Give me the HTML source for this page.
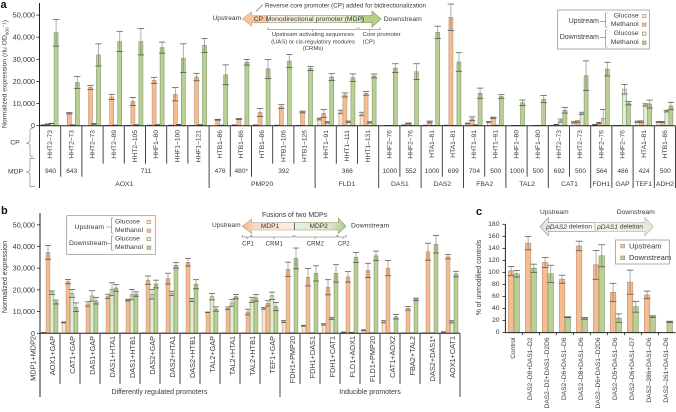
<!DOCTYPE html>
<html lang="en">
<head>
<meta charset="utf-8">
<title>Bidirectional promoter expression chart</title>
<style>
html,body{margin:0;padding:0;background:#fff;}
svg{display:block;font-family:"Liberation Sans",Arial,sans-serif;}
text{fill:#3a3a3a;dominant-baseline:central;}
</style>
</head>
<body>
<svg id="fig" width="676" height="412" viewBox="0 0 676 412" xmlns="http://www.w3.org/2000/svg">
<defs>
<linearGradient id="gMdp" x1="0" x2="1" y1="0" y2="0"><stop offset="0" stop-color="#fdf0e2"/><stop offset=".55" stop-color="#eef0d8"/><stop offset="1" stop-color="#c6d8a2"/></linearGradient>
<linearGradient id="gF1" x1="0" x2="1" y1="0" y2="0"><stop offset="0" stop-color="#f6b488"/><stop offset=".25" stop-color="#fbd9c0"/><stop offset="1" stop-color="#fdeee2"/></linearGradient>
<linearGradient id="gF2" x1="0" x2="1" y1="0" y2="0"><stop offset="0" stop-color="#eaf0de"/><stop offset=".7" stop-color="#dbe6c6"/><stop offset="1" stop-color="#adc885"/></linearGradient>
<linearGradient id="gDelL" x1="0" x2="1" y1="0" y2="0"><stop offset="0" stop-color="#dcdcdc"/><stop offset=".3" stop-color="#f6f6f6"/><stop offset="1" stop-color="#ffffff"/></linearGradient>
<linearGradient id="gDelR" x1="0" x2="1" y1="0" y2="0"><stop offset="0" stop-color="#f6f8f0"/><stop offset="1" stop-color="#e2ebd6"/></linearGradient>
</defs>

<!-- panel letters -->
<text x="0.5" y="5" font-size="11" font-weight="bold" style="fill:#111">a</text>
<text x="1" y="211" font-size="11" font-weight="bold" style="fill:#111">b</text>
<text x="476" y="212" font-size="11" font-weight="bold" style="fill:#111">c</text>

<!-- axis titles -->
<text transform="rotate(-90 5 74)" x="5" y="74" font-size="6.8" text-anchor="middle">Normalized expression (rlu OD<tspan font-size="4.6" dy="1.5">600</tspan><tspan font-size="4.6" dy="-3">−1</tspan><tspan dy="1.5">)</tspan></text>
<text transform="rotate(-90 5 277)" x="5" y="277" font-size="7.1" text-anchor="middle">Normalized expression</text>
<text transform="rotate(-90 479.5 277.5)" x="479.5" y="277.5" font-size="6.9" text-anchor="middle">% of unmodified controls</text>

<!-- panel a row labels -->
<text x="15" y="143" font-size="6.8" text-anchor="middle">CP</text>
<text x="15.5" y="172" font-size="6.8" text-anchor="middle">MDP</text>
<path d="M33 128 Q30 128 30 131 V140 Q30 143 26 143 Q30 143 30 146 V154 Q30 157 33 157" fill="none" stroke="#8a8a8a" stroke-width=".7"/>
<path d="M35 158.5 H30 V169 Q30 172 26 172 Q30 172 30 175 V186.5 H35" fill="none" stroke="#8a8a8a" stroke-width=".7"/>

<!-- panel a diagram -->
<g>
<text x="212.5" y="18.7" font-size="6.6">Upstream</text>
<text x="383.7" y="19.5" font-size="6.8">Downstream</text>
<text x="265" y="6" font-size="6.3">Reverse core promoter (CP) added for bidirectionalization</text>
<path d="M263 4.5 L256 11.5" stroke="#666" stroke-width=".6" fill="none"/>
<path d="M267.7 15.7 H251.7 V11.7 L242.3 18.9 L251.7 26 V22.7 H267.7 Z" fill="#f7c5a0" stroke="#c2a388" stroke-width=".6"/>
<path d="M267.7 15.7 H372 V11 L381 19 L372 27 V22.7 H267.7 Z" fill="url(#gMdp)" stroke="#8d9c74" stroke-width=".6"/>
<path d="M362 15.7 H372 V11 L381 19 L372 27 V22.7 H362 Z" fill="#b7cf8a" stroke="#8d9c74" stroke-width=".6"/>
<text x="258.5" y="19.3" font-size="6.8" text-anchor="middle">CP</text>
<text x="315" y="19.3" font-size="6.8" text-anchor="middle">Monodirectional promoter (MDP)</text>
<path d="M268 27.5 V29.5 H357 V27.5 M312.5 29.5 V31.5 M359 27.5 V29.5 H380 V27.5 M369.5 29.5 V31.5" fill="none" stroke="#666" stroke-width=".6"/>
<text x="313" y="35" font-size="5.9" text-anchor="middle">Upstream activating sequences</text>
<text x="313" y="42.3" font-size="5.9" text-anchor="middle">(UAS) or cis-regulatory modules</text>
<text x="313" y="49" font-size="5.9" text-anchor="middle">(CRMs)</text>
<text x="362.7" y="35" font-size="5.9">Core promoter</text>
<text x="362.7" y="42.3" font-size="5.9">(CP)</text>
</g>

<!-- panel a legend -->
<g>
<rect x="557.5" y="10" width="91.8" height="39" fill="#fff" stroke="#8c8c8c" stroke-width=".7"/>
<text x="599" y="21.3" font-size="7" text-anchor="end">Upstream</text>
<text x="599" y="37.7" font-size="7" text-anchor="end">Downstream</text>
<path d="M607.5 13 H605.5 V27 H607.5 M600 21.3 H605.5 M607.5 30 H605.5 V47 H607.5 M600 37.7 H605.5" fill="none" stroke="#777" stroke-width=".6"/>
<text x="638.7" y="16" font-size="6.8" text-anchor="end">Glucose</text>
<text x="638.7" y="24.7" font-size="6.8" text-anchor="end">Methanol</text>
<text x="638.7" y="33.7" font-size="6.8" text-anchor="end">Glucose</text>
<text x="638.7" y="42.7" font-size="6.8" text-anchor="end">Methanol</text>
<rect x="642.3" y="14.3" width="3.8" height="3.4" fill="#f9e3d0" stroke="#b99274" stroke-width=".6"/>
<rect x="642.3" y="23" width="3.8" height="3.4" fill="#f5bc90" stroke="#b99274" stroke-width=".6"/>
<rect x="642.3" y="32" width="3.8" height="3.4" fill="#e6ecd6" stroke="#7f9868" stroke-width=".6"/>
<rect x="642.3" y="41" width="3.8" height="3.4" fill="#b9cf94" stroke="#7f9868" stroke-width=".6"/>
</g>

<!-- panel b legend -->
<g>
<rect x="66.7" y="215.7" width="88.6" height="38.6" fill="#fff" stroke="#8c8c8c" stroke-width=".7"/>
<text x="104" y="227.3" font-size="6.8" text-anchor="end">Upstream</text>
<text x="69" y="243.3" font-size="6.8">Downstream</text>
<path d="M113.5 218 H111.5 V233 H113.5 M106 227 H111.5 M113.5 236 H111.5 V250 H113.5 M107.5 243.3 H111.5" fill="none" stroke="#777" stroke-width=".6"/>
<text x="115" y="222" font-size="6.8">Glucose</text>
<text x="115" y="230.7" font-size="6.8">Methanol</text>
<text x="115" y="239" font-size="6.8">Glucose</text>
<text x="115" y="247.7" font-size="6.8">Methanol</text>
<rect x="147" y="220.3" width="3.8" height="3.4" fill="#f9e3d0" stroke="#b99274" stroke-width=".6"/>
<rect x="147" y="229" width="3.8" height="3.4" fill="#f5bc90" stroke="#b99274" stroke-width=".6"/>
<rect x="147" y="237.3" width="3.8" height="3.4" fill="#e6ecd6" stroke="#7f9868" stroke-width=".6"/>
<rect x="147" y="246" width="3.8" height="3.4" fill="#b9cf94" stroke="#7f9868" stroke-width=".6"/>
</g>

<!-- panel b diagram -->
<g>
<text x="262" y="215.7" font-size="6.9">Fusions of two MDPs</text>
<text x="212" y="225.7" font-size="6.6">Upstream</text>
<text x="351" y="226" font-size="6.8">Downstream</text>
<path d="M294.3 222.7 H251.7 V219 L242.3 226.3 L251.7 233.5 V230 H294.3 Z" fill="url(#gF1)" stroke="#b0a090" stroke-width=".6"/>
<path d="M294.3 222.7 H338.3 V218 L346 226.3 L338.3 233.5 V230 H294.3 Z" fill="url(#gF2)" stroke="#8d9c74" stroke-width=".6"/>
<path d="M294.3 222.7 V230" stroke="#333" stroke-width=".7"/>
<text x="270" y="226.5" font-size="6.6" text-anchor="middle">MDP1</text>
<text x="318.7" y="226.5" font-size="6.6" text-anchor="middle">MDP2</text>
<path d="M242.5 235 V237 H251 V235 M247 237 V239 M252 235 V237 H293.5 V235 M274 237 V239 M295 235 V237 H337 V235 M315 237 V239 M338 235 V237 H346 V235 M343 237 V239" fill="none" stroke="#666" stroke-width=".6"/>
<text x="248" y="244.7" font-size="6" text-anchor="middle">CP1</text>
<text x="274.3" y="244.7" font-size="6" text-anchor="middle">CRM1</text>
<text x="315.3" y="244.7" font-size="6" text-anchor="middle">CRM2</text>
<text x="343.7" y="244.7" font-size="6" text-anchor="middle">CP2</text>
</g>

<text transform="rotate(-90 33 336)" x="33" y="336" font-size="7.3" text-anchor="end">MDP1+MDP2</text>
<text x="159.5" y="392.3" font-size="7" text-anchor="middle">Differently regulated promoters</text>
<text x="370" y="392.3" font-size="7" text-anchor="middle">Inducible promoters</text>

<!-- panel c diagram -->
<g>
<text x="540" y="212.7" font-size="6.6">Upstream</text>
<text x="616.7" y="212.7" font-size="6.8">Downstream</text>
<path d="M595 222.7 H548.3 V217.7 L540 226.8 L548.3 235.7 V231.3 H595 Z" fill="url(#gDelL)" stroke="#8c8c8c" stroke-width=".6"/>
<path d="M595 222.7 H645 V217.7 L653.3 226.8 L645 235.7 V231.3 H595 Z" fill="url(#gDelR)" stroke="#a8b39a" stroke-width=".6"/>
<text x="569" y="227" font-size="6.6" text-anchor="middle"><tspan font-style="italic">pDAS2</tspan> deletion</text>
<text x="620" y="227" font-size="6.6" text-anchor="middle"><tspan font-style="italic">pDAS1</tspan> deletion</text>
</g>

<!-- panel c legend -->
<g>
<rect x="615.3" y="240" width="54" height="24" fill="#fff" stroke="#8c8c8c" stroke-width=".7"/>
<rect x="620.7" y="244.3" width="4" height="3.6" fill="#f5bc90" stroke="#b99274" stroke-width=".6"/>
<rect x="620.7" y="256" width="4" height="3.6" fill="#b9cf94" stroke="#7f9868" stroke-width=".6"/>
<text x="629" y="246" font-size="7.5">Upstream</text>
<text x="629" y="257.7" font-size="7.5">Downstream</text>
</g>
</svg>

<script>
// ---------- Panel a data (values in thousands) ----------
const aCpLabels = ['HHT2–73','HHT2–73','HHT2–73','HHT2–89','HHT2–105','HHF1–80','HHF1–100','HHF1–121','HTB1–86','HTB1–86','HTB1–86','HTB1–106','HTB1–126','HHT1–91','HHT1–111','HHT1–131','HHF2–76','HHF2–76','HTA1–81','HTA1–81','HHT1–91','HHT1–91','HHF1–80','HHF1–80','HHT2–73','HHT2–73','HHF2–76','HHF2–76','HTA1–81','HTB1–86'];
const aUpGlucose   = [0.3,0,0,0.1,0.1,0.2,0.2,0.1,0,0.3,0.3,0.2,0.1,3,6.2,5.3,0,0.3,0.2,0.2,1,1.7,0,0,0.1,1.5,0.4,0.1,1.8,1.7];
const aUpMethanol  = [0.6,5.6,17.3,13,11,20.5,14.2,22,2.7,3,6,8.6,6.2,5.6,13.9,14.6,0.1,1,1.7,49,3.2,3.6,0.1,0.1,0.5,1.8,1.2,0.1,1.8,1.7];
const aDownGlucose = [1,0.3,0.8,0.2,0.4,0.4,0.5,0.4,0.2,0,0,0,0,1.5,1.8,1.5,0.1,0.1,0.1,0.1,0.3,0.2,0.1,0.1,2.3,5.6,3.3,16.5,9.4,6.6];
const aDownMethanol= [42,19.5,32,38,38,35.3,30.5,36.3,23,28.7,25.7,29.2,25.9,22,21.7,22.5,26,24.4,42.2,28.8,14.7,13.2,10.4,12,7,22.6,25.6,10.2,9.8,8.9];
const aUpGlucoseErr   = [0.1,0,0,0,0,0,0,0,0,0,0,0,0,0.4,0.8,0.8,0,0,0,0,0.2,0.2,0,0,0,0.3,0.2,0,0.3,0.2];
const aUpMethanolErr  = [0.2,0.3,0.9,1.2,1.8,1.4,3,1.7,0.2,0.2,1.8,0.9,0.4,1.8,0.9,0.8,0,0.2,0.4,6,0.8,0.3,0,0,0.1,0.4,0.3,0,0.4,0.2];
const aDownGlucoseErr = [0.1,0.1,0.2,0.1,0.1,0.1,0.1,0.1,0,0,0,0,0,0.3,0.3,0.3,0,0,0,0,0,0,0,0,0.7,0.5,4,2.2,0.5,0.4];
const aDownMethanolErr= [6,2.7,5,4.5,6,2.5,6.5,3.2,4.5,1.3,4.3,3,0.9,1.5,1.7,0.9,2,3.6,2.8,4.2,2.3,0.8,1.2,1.6,1.3,6.7,3.1,0.8,1.8,1.7];
const aMdpLabels = ['940','643','711','478','480*','392','366','1000','552','1000','699','704','500','1000','500','692','500','564','486','424','500'];
const aMdpSpans  = [1,1,6,1,1,3,3,1,1,1,1,1,1,1,1,1,1,1,1,1,1];
const aPromoterLabels = ['AOX1','PMP20','FLD1','DAS1','DAS2','FBA2','TAL2','CAT1','FDH1','GAP','TEF1','ADH2'];
const aPromoterSpans  = [8,5,3,2,2,2,2,2,1,1,1,1];
const aTicks = [0,10,20,30,40,50];

// ---------- Panel b data (values in thousands) ----------
const bLabels = ['AOX1+GAP','CAT1+GAP','DAS1+GAP','DAS1+HTA1','DAS1+HTB1','DAS2+GAP','DAS2+HTA1','DAS2+HTB1','TAL2+GAP','TAL2+HTA1','TAL2+HTB1','TEF1+GAP','FDH1+PMP20','FDH1+DAS1','FDH1+CAT1','FLD1+AOX1','FLD1+PMP20','CAT1+AOX2','FBA2+TAL2','DAS2+DAS1*','AOX1+CAT1'];
const bUpGlucose   = [0.3,5,0,0.1,0.1,0.2,0.1,0.1,0.1,0.1,0.1,11.5,5.4,3.5,4.1,0.5,1.4,5.3,0.2,0.2,0.6];
const bUpMethanol  = [37.3,23.8,13.5,17,15.3,24.5,25.2,32.7,9.7,11.5,9.8,13.8,29.5,25.8,21.2,26,29,30,11.5,37.6,35.3];
const bDownGlucose = [18.7,18.4,17.2,20.3,17.8,18,18.4,15.3,16.9,14,15.4,17.3,0.2,0.2,6.9,0.4,0.2,0.1,0.1,0.2,5.3];
const bDownMethanol= [14.4,12,15,20.9,18.1,22.7,31.3,22.6,11.2,16.9,16.3,12.3,34.5,27.6,27.6,35,35.7,7.6,15.7,41,27.3];
const bUpGlucoseErr   = [0,0.2,0,0,0,0,0,0,0,0,0,0.4,0.5,0.2,0.3,0.1,0.2,0.5,0,0,0.1];
const bUpMethanolErr  = [3.2,1,1,1,0.4,1.9,2.5,1.7,0.1,0.6,1.3,1.2,3.3,4,3.5,2.4,3.3,3.5,0.8,3.9,1];
const bDownGlucoseErr = [0.8,1.8,2.4,3,2.4,2.2,1,0.7,1.5,1.5,1.2,1.7,0,0,0.5,0,0,0,0,0,0.5];
const bDownMethanolErr= [0.9,2,1.5,1.5,1,1.8,1.3,2.1,1,1,1.5,1.9,4.8,3.5,4,2.3,2.2,1,0.5,4,1.3];
const bGroupLabels = ['Differently regulated promoters','Inducible promoters'];
const bGroupSpans  = [12,9];
const bTicks = [0,10,20,30,40,50];

// ---------- Panel c data (percent) ----------
const cLabels = ['Control','DAS2–D8+DAS1–D2','DAS2–D2+DAS1–D2D6','DAS2–D6+DAS1–D6','DAS2–D8+DAS1–D6','DAS2–D6+DAS1–D2D6','DAS2–D5+DAS1–D6','DAS2–D6+DAS1–D7','DAS2–386+DAS1–D6','DAS2–261+DAS1–D6'];
const cUpstream      = [102.6,148.8,116.5,88.8,144,112.6,67,83.8,62.6,0];
const cUpstreamErr   = [7.4,11.2,8.5,6.7,8,24,15,20,6.4,0];
const cDownstream    = [97.7,107,97.7,25.5,23.8,127.7,24,43,26.4,18];
const cDownstreamErr = [5.3,6.8,14.3,0.8,1.5,18.3,7,9,1.5,1];
const cTicks = [0,20,40,60,80,100,120,140,160,180];

// ---------- Axis functions ----------
const aX = i => 39.5 + 21.2 * i;
const aY = v => 125.7 - v * 2.212;
const bX = i => 40 + 20 * i;
const bY = v => 333.3 - v * 2.17;
const cX = i => 505.4 + 17 * i;
const cY = v => 332.6 - v * 0.6017;

const UG = {fill:'#f9e3d0', stroke:'#b99274'};
const UM = {fill:'#f5bc90', stroke:'#b99274'};
const DG = {fill:'#e6ecd6', stroke:'#7f9868'};
const DM = {fill:'#b9cf94', stroke:'#7f9868'};
const NS = 'http://www.w3.org/2000/svg';
const fig = document.getElementById('fig');

function make(tag, attrs, parent) {
  const n = document.createElementNS(NS, tag);
  for (const k in attrs) n.setAttribute(k, attrs[k]);
  (parent || fig).appendChild(n);
  return n;
}

function drawLine(x1, y1, x2, y2, stroke, width, parent) {
  return make('line', {x1, y1, x2, y2, stroke, 'stroke-width': width}, parent);
}

function drawSeries(parent, xFn, yFn, offset, width, values, errors, style, capHalf) {
  values.forEach((v, i) => {
    const cx = xFn(i + 0.5) + offset;
    const top = yFn(v);
    const rect = make('rect', {x: cx - width / 2, y: top, width: width, height: Math.max(0, yFn(0) - top), fill: style.fill, stroke: style.stroke, 'stroke-width': 0.6}, parent);
    
    
    const e = errors[i];
    if (v === 0 && e === 0) return;
    const hi = yFn(v + e);
    const lo = yFn(Math.max(0, v - e));
    const g = make('g', {}, parent);
    
    
    drawLine(cx, hi, cx, lo, '#6a6a6a', 0.9, g).setAttribute('opacity', '0.6');
    drawLine(cx - capHalf, hi, cx + capHalf, hi, '#4a4a4a', 0.7, g);
    drawLine(cx - capHalf, lo, cx + capHalf, lo, '#4a4a4a', 0.7, g);
  });
}

function drawYAxis(parent, x, yFn, ticks, formatter, topY, bottomY, size, labelRight) {
  const axis = drawLine(x, topY, x, bottomY, '#222', 1, parent);
  
  
  ticks.forEach(t => {
    const y = yFn(t);
    const tick = drawLine(x - 3, y, x, y, '#222', 0.8, parent);
    
    
    const label = make('text', {x: labelRight, y: y, 'font-size': size, 'text-anchor': 'end'}, parent);
    label.textContent = formatter(t);
    
    
  });
}

function rotatedLabel(parent, x, y, size, str) {
  const t = make('text', {x: x, y: y, 'font-size': size, 'text-anchor': 'end', transform: 'rotate(-90 ' + x + ' ' + y + ')'}, parent);
  t.textContent = str;
  
  
}

function boundaries(spans) {
  const out = [];
  let acc = 0;
  spans.forEach(s => { acc += s; out.push(acc); });
  return out;
}

const thousands = t => t === 0 ? '0' : t + ',000';

// ---------- Panel a ----------
const pa = make('g', {});


drawSeries(pa, aX, aY, -6, 4, aUpGlucose, aUpGlucoseErr, UG, 3.2);
drawSeries(pa, aX, aY, -2, 4, aUpMethanol, aUpMethanolErr, UM, 3.2);
drawSeries(pa, aX, aY, 2, 4, aDownGlucose, aDownGlucoseErr, DG, 3.2);
drawSeries(pa, aX, aY, 6, 4, aDownMethanol, aDownMethanolErr, DM, 3.2);
drawYAxis(pa, aX(0), aY, aTicks, thousands, 3, 188, 7.3, 35);
const aAxisX = drawLine(aX(0), aY(0), aX(30), aY(0), '#222', 1, pa);


const aMdpEnds = boundaries(aMdpSpans);
const aPromEnds = boundaries(aPromoterSpans);
for (let i = 1; i <= aCpLabels.length; i++) {
  const depth = aPromEnds.includes(i) ? 188 : (aMdpEnds.includes(i) ? 176.7 : 163.7);
  const sep = drawLine(aX(i), aY(0), aX(i), depth, '#333', 0.9, pa);
  
  
}
aCpLabels.forEach((s, i) => rotatedLabel(pa, aX(i + 0.5) + 0.6, 130, 6.7, s));
let aAcc = 0;
aMdpLabels.forEach((s, i) => {
  const t = make('text', {x: aX(aAcc + aMdpSpans[i] / 2) + 0.4, y: 171.7, 'font-size': 6.6, 'text-anchor': 'middle'}, pa);
  t.textContent = s;
  
  
  aAcc += aMdpSpans[i];
});
aAcc = 0;
aPromoterLabels.forEach((s, i) => {
  const t = make('text', {x: aX(aAcc + aPromoterSpans[i] / 2), y: 184.3, 'font-size': 6.8, 'text-anchor': 'middle'}, pa);
  t.textContent = s;
  
  
  aAcc += aPromoterSpans[i];
});

// ---------- Panel b ----------
const pb = make('g', {});


drawSeries(pb, bX, bY, -6, 3.8, bUpGlucose, bUpGlucoseErr, UG, 3);
drawSeries(pb, bX, bY, -2, 3.8, bUpMethanol, bUpMethanolErr, UM, 3);
drawSeries(pb, bX, bY, 2, 3.8, bDownGlucose, bDownGlucoseErr, DG, 3);
drawSeries(pb, bX, bY, 6, 3.8, bDownMethanol, bDownMethanolErr, DM, 3);
drawYAxis(pb, bX(0), bY, bTicks, thousands, 213, 397, 7.3, 35);
const bAxisX = drawLine(bX(0), bY(0), bX(21), bY(0), '#222', 1, pb);


const bEnds = boundaries(bGroupSpans);
for (let i = 1; i <= bLabels.length; i++) {
  const depth = bEnds.includes(i) ? 397 : 384;
  const sep = drawLine(bX(i), bY(0), bX(i), depth, '#333', 0.9, pb);
  
  
}
bLabels.forEach((s, i) => rotatedLabel(pb, bX(i + 0.5) + 2.5, 336, 7.3, s));

// ---------- Panel c ----------
const pc = make('g', {});


drawSeries(pc, cX, cY, -2.8, 5.4, cUpstream, cUpstreamErr, UM, 3.4);
drawSeries(pc, cX, cY, 2.8, 5.4, cDownstream, cDownstreamErr, DM, 3.4);
drawYAxis(pc, cX(0), cY, cTicks, t => String(t), 224.3, 332.6, 6.8, 499.5);
const cAxisX = drawLine(cX(0), cY(0), cX(10), cY(0), '#222', 1, pc);


for (let i = 1; i < cLabels.length; i++) {
  const tick = drawLine(cX(i), cY(0), cX(i), cY(0) + 2.5, '#222', 0.8, pc);
  
  
}
cLabels.forEach((s, i) => rotatedLabel(pc, cX(i + 0.5) - 0.3, 337.5, 6.6, s));
</script>
</body>
</html>
